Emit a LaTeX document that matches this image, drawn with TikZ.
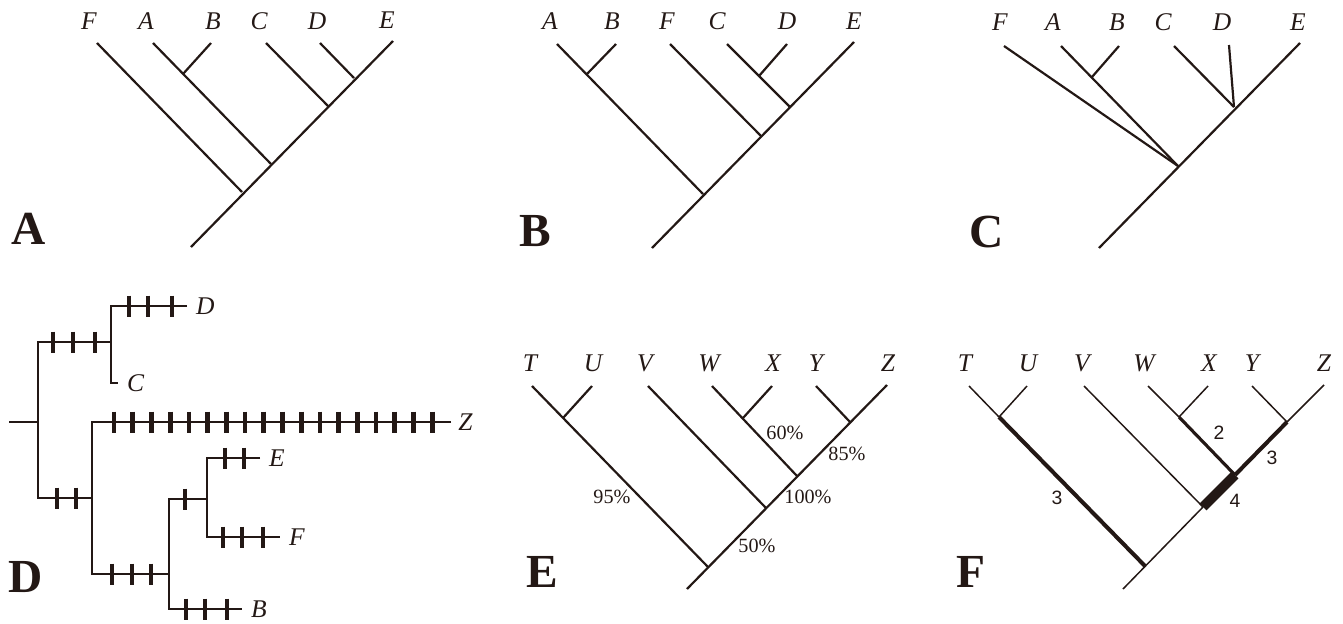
\documentclass[tikz,border=0pt]{standalone}
\usepackage{fontspec}
\setmainfont{Liberation Serif}
\newfontfamily\numfont{Liberation Sans}
\usepackage{tikz}
\usetikzlibrary{positioning}
\definecolor{ink}{RGB}{35,24,21}

\tikzset{
  branch/.style={line width=1.25pt},
  thinbranch/.style={line width=0.85pt},
  fatbranch/.style={line width=2.3pt},
  fatterbranch/.style={line width=1.8pt},
  blockbranch/.style={line width=5.6pt},
  tick/.style={line width=2.7pt},
  taxon/.style={font=\fontsize{14.5}{14.5}\selectfont\itshape, inner sep=0pt},
  panel/.style={font=\fontsize{27}{27}\selectfont\bfseries, inner sep=0pt, anchor=base},
  support/.style={font=\fontsize{11.5}{11.5}\selectfont, inner sep=0pt},
  steps/.style={font=\numfont\fontsize{11}{11}\selectfont, inner sep=0pt},
}
\newcommand{\drawticks}[2]{\foreach \tx in {#2} \draw[tick] (\tx,{#1-10.5}) -- (\tx,{#1+10.5});}

\begin{document}
\begin{tikzpicture}[x=0.02cm, y=-0.02cm, color=ink]
\useasboundingbox (0,0) rectangle (1343,623);

% panel A
\coordinate (aR) at (191,247);
\coordinate (aE) at (393,41);
\coordinate (aF) at (97,43);   \coordinate (aj1) at (242,192);
\coordinate (aA) at (153,43);  \coordinate (aj2) at (271,164);
\coordinate (aB) at (211,43);  \coordinate (ajAB) at (183,74);
\coordinate (aC) at (266,43);  \coordinate (aj3) at (328,106);
\coordinate (aD) at (320,43);  \coordinate (aj4) at (354,78);
\draw[branch] (aR) -- (aE);
\draw[branch] (aF) -- (aj1);
\draw[branch] (aA) -- (aj2);
\draw[branch] (ajAB) -- (aB);
\draw[branch] (aC) -- (aj3);
\draw[branch] (aD) -- (aj4);
\node[taxon, anchor=base] (laF) at (89,29) {F};
\node[taxon, anchor=base] (laA) at (146,29) {A};
\node[taxon, anchor=base] (laB) at (213,29) {B};
\node[taxon, anchor=base] (laC) at (259,29) {C};
\node[taxon, anchor=base] (laD) at (317,29) {D};
\node[taxon, anchor=base] (laE) at (387,28) {E};
\node[panel] (pA) at (29,244) {A};

% panel B
\coordinate (bR) at (652,248);
\coordinate (bE) at (854,42);
\coordinate (bA) at (557,44);  \coordinate (bj1) at (703,194);
\coordinate (bB) at (616,44);  \coordinate (bjAB) at (587,74);
\coordinate (bF) at (670,44);  \coordinate (bj2) at (761,136);
\coordinate (bC) at (727,44);  \coordinate (bj3) at (790,107);
\coordinate (bD) at (787,44);  \coordinate (bjCD) at (759,76);
\draw[branch] (bR) -- (bE);
\draw[branch] (bA) -- (bj1);
\draw[branch] (bjAB) -- (bB);
\draw[branch] (bF) -- (bj2);
\draw[branch] (bC) -- (bj3);
\draw[branch] (bjCD) -- (bD);
\node[taxon, anchor=base] (lbA) at (550,29) {A};
\node[taxon, anchor=base] (lbB) at (612,29) {B};
\node[taxon, anchor=base] (lbF) at (667,29) {F};
\node[taxon, anchor=base] (lbC) at (717,29) {C};
\node[taxon, anchor=base] (lbD) at (787,29) {D};
\node[taxon, anchor=base] (lbE) at (854,29) {E};
\node[panel] (pB) at (535,246) {B};

% panel C
\coordinate (cR) at (1099,248);
\coordinate (cE) at (1300,43);
\coordinate (cj1) at (1178,166);
\coordinate (cF) at (1004,46);
\coordinate (cA) at (1061,46);
\coordinate (cB) at (1119,46);  \coordinate (cjAB) at (1092,77);
\coordinate (cC) at (1174,46);  \coordinate (cj2) at (1234,107);
\coordinate (cD) at (1229,45);
\draw[branch] (cR) -- (cE);
\draw[branch] (cF) -- (cj1);
\draw[branch] (cA) -- (cj1);
\draw[branch] (cjAB) -- (cB);
\draw[branch] (cC) -- (cj2);
\draw[branch] (cD) -- (cj2);
\node[taxon, anchor=base] (lcF) at (1000,30) {F};
\node[taxon, anchor=base] (lcA) at (1053,30) {A};
\node[taxon, anchor=base] (lcB) at (1117,30) {B};
\node[taxon, anchor=base] (lcC) at (1163,30) {C};
\node[taxon, anchor=base] (lcD) at (1222,30) {D};
\node[taxon, anchor=base] (lcE) at (1298,30) {E};
\node[panel] (pC) at (987,247) {C};

% panel D
\coordinate (dR) at (9,422);
\coordinate (d0) at (38,422);
\coordinate (d1) at (111,342);
\coordinate (d2) at (92,498);
\coordinate (d3) at (169,574);
\coordinate (d4) at (207,499);
\coordinate (dDt) at (187,306);
\coordinate (dCt) at (118,383);
\coordinate (dZt) at (451,422);
\coordinate (dEt) at (260,458);
\coordinate (dFt) at (280,537);
\coordinate (dBt) at (242,609);
\draw[thinbranch] (dR) -- (d0);
\draw[thinbranch] (d1) -| (d0) |- (d2);
\draw[thinbranch] (dDt) -| (d1) |- (dCt);
\draw[thinbranch] (dZt) -| (d2) |- (d3);
\draw[thinbranch] (d4) -| (d3) |- (dBt);
\draw[thinbranch] (dEt) -| (d4) |- (dFt);
\drawticks{342}{53,73,95}
\drawticks{306}{129,148,172}
\drawticks{498}{57,76}
\drawticks{574}{112,132,151}
\drawticks{499}{185}
\drawticks{458}{225,244}
\drawticks{537}{223,242,263}
\drawticks{609}{186,205,227}
\foreach \i in {0,...,17}
  \draw[tick] ({114+18.72*\i},411.5) -- ({114+18.72*\i},432.5);
\node[taxon, right=5pt of dDt] (ldD) {D};
\node[taxon, right=5pt of dCt] (ldC) {C};
\node[taxon, right=4pt of dZt] (ldZ) {Z};
\node[taxon, right=5pt of dEt] (ldE) {E};
\node[taxon, right=5pt of dFt] (ldF) {F};
\node[taxon, right=5pt of dBt] (ldB) {B};
\node[panel] (pD) at (26,592) {D};

% panel E
\coordinate (eR) at (687,589);
\coordinate (eZ) at (887,385);
\coordinate (eT) at (532,386);  \coordinate (ej1) at (708,567);
\coordinate (eU) at (592,386);  \coordinate (ejTU) at (563,418);
\coordinate (eV) at (648,386);  \coordinate (ej2) at (766,508);
\coordinate (eW) at (712,386);  \coordinate (ej3) at (797,476);
\coordinate (eX) at (772,386);  \coordinate (ejWX) at (743,418);
\coordinate (eY) at (816,386);  \coordinate (ej4) at (850,422);
\draw[branch] (eR) -- (eZ);
\draw[branch] (eT) -- (ej1);
\draw[branch] (ejTU) -- (eU);
\draw[branch] (eV) -- (ej2);
\draw[branch] (eW) -- (ej3);
\draw[branch] (ejWX) -- (eX);
\draw[branch] (eY) -- (ej4);
\node[taxon, anchor=base] (leT) at (530,371) {T};
\node[taxon, anchor=base] (leU) at (593,371) {U};
\node[taxon, anchor=base] (leV) at (645,371) {V};
\node[taxon, anchor=base] (leW) at (709,371) {W};
\node[taxon, anchor=base] (leX) at (773,371) {X};
\node[taxon, anchor=base] (leY) at (816,371) {Y};
\node[taxon, anchor=base] (leZ) at (888,371) {Z};
\node[support] (s60) at (785,433) {60\%};
\node[support] (s85) at (847,454) {85\%};
\node[support] (s95) at (612,497) {95\%};
\node[support] (s100) at (808,497) {100\%};
\node[support] (s50) at (757,546) {50\%};
\node[panel] (pE) at (542,587) {E};

% panel F
\coordinate (fR) at (1123,589);
\coordinate (fZ) at (1324,385);
\coordinate (fT) at (969,386);   \coordinate (fj1) at (1145,566);
\coordinate (fU) at (1027,386);  \coordinate (fjTU) at (999,417);
\coordinate (fV) at (1084,386);  \coordinate (fj2) at (1203,507);
\coordinate (fW) at (1148,386);  \coordinate (fj3) at (1235,475);
\coordinate (fX) at (1208,386);  \coordinate (fjWX) at (1179,417);
\coordinate (fY) at (1252,386);  \coordinate (fj4) at (1287,422);
\draw[thinbranch] (fR) -- (fj2);
\draw[blockbranch] (fj2) -- (fj3);
\draw[fatbranch] (fj3) -- (fj4);
\draw[thinbranch] (fj4) -- (fZ);
\draw[thinbranch] (fT) -- (fjTU);
\draw[fatbranch] (fjTU) -- (fj1);
\draw[thinbranch] (fjTU) -- (fU);
\draw[thinbranch] (fV) -- (fj2);
\draw[thinbranch] (fW) -- (fjWX);
\draw[fatterbranch] (fjWX) -- (fj3);
\draw[thinbranch] (fjWX) -- (fX);
\draw[thinbranch] (fY) -- (fj4);
\node[taxon, anchor=base] (lfT) at (965,371) {T};
\node[taxon, anchor=base] (lfU) at (1028,371) {U};
\node[taxon, anchor=base] (lfV) at (1082,371) {V};
\node[taxon, anchor=base] (lfW) at (1144,371) {W};
\node[taxon, anchor=base] (lfX) at (1209,371) {X};
\node[taxon, anchor=base] (lfY) at (1252,371) {Y};
\node[taxon, anchor=base] (lfZ) at (1324,371) {Z};
\node[steps] (n3a) at (1057,498) {3};
\node[steps] (n2) at (1219,433) {2};
\node[steps] (n3b) at (1272,458) {3};
\node[steps] (n4) at (1235,501) {4};
\node[panel] (pF) at (971,587) {F};
\end{tikzpicture}
\end{document}
